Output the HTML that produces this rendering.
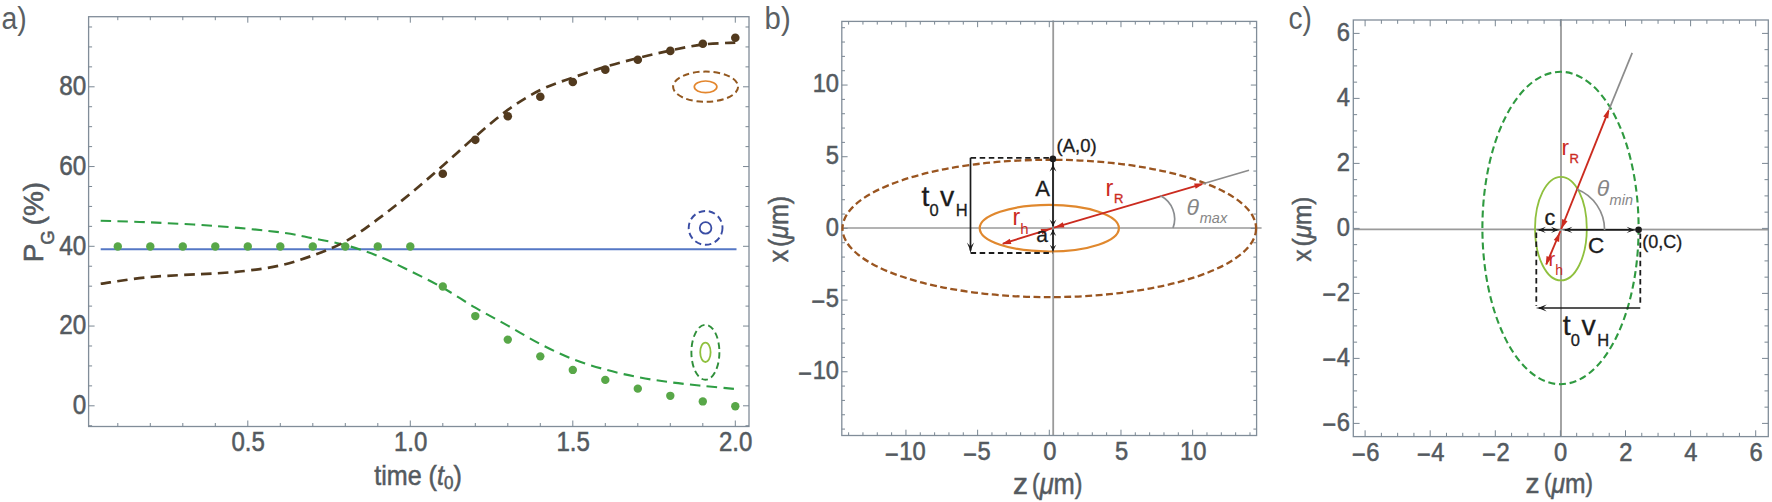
<!DOCTYPE html><html><head><meta charset="utf-8"><title>figure</title><style>html,body{margin:0;padding:0;background:#fff}svg{display:block}text{font-family:'Liberation Sans', Arial, sans-serif}text[fill="#545a60"]{stroke:#545a60;stroke-width:.55px}text[fill="#1c1c1c"]{stroke:#1c1c1c;stroke-width:.3px}text[fill="#5a5f63"]{stroke:none}</style></head><body>
<svg width="1772" height="502" viewBox="0 0 1772 502">
<rect width="1772" height="502" fill="#fff"/>
<rect x="88.6" y="16.7" width="660.4" height="409.8" fill="none" stroke="#818d99" stroke-width="1.3"/>
<path d="M117.8 426.5v-3.5 M117.8 16.7v3.5 M150.3 426.5v-3.5 M150.3 16.7v3.5 M182.8 426.5v-3.5 M182.8 16.7v3.5 M215.3 426.5v-3.5 M215.3 16.7v3.5 M247.8 426.5v-6 M247.8 16.7v6 M280.3 426.5v-3.5 M280.3 16.7v3.5 M312.8 426.5v-3.5 M312.8 16.7v3.5 M345.3 426.5v-3.5 M345.3 16.7v3.5 M377.8 426.5v-3.5 M377.8 16.7v3.5 M410.3 426.5v-6 M410.3 16.7v6 M442.8 426.5v-3.5 M442.8 16.7v3.5 M475.3 426.5v-3.5 M475.3 16.7v3.5 M507.8 426.5v-3.5 M507.8 16.7v3.5 M540.3 426.5v-3.5 M540.3 16.7v3.5 M572.8 426.5v-6 M572.8 16.7v6 M605.3 426.5v-3.5 M605.3 16.7v3.5 M637.8 426.5v-3.5 M637.8 16.7v3.5 M670.3 426.5v-3.5 M670.3 16.7v3.5 M702.8 426.5v-3.5 M702.8 16.7v3.5 M735.3 426.5v-6 M735.3 16.7v6 M88.6 425.74h3.5 M749 425.74h-3.5 M88.6 405.8h6 M749 405.8h-6 M88.6 385.86h3.5 M749 385.86h-3.5 M88.6 365.93h3.5 M749 365.93h-3.5 M88.6 345.99h3.5 M749 345.99h-3.5 M88.6 326.05h6 M749 326.05h-6 M88.6 306.11h3.5 M749 306.11h-3.5 M88.6 286.18h3.5 M749 286.18h-3.5 M88.6 266.24h3.5 M749 266.24h-3.5 M88.6 246.3h6 M749 246.3h-6 M88.6 226.36h3.5 M749 226.36h-3.5 M88.6 206.43h3.5 M749 206.43h-3.5 M88.6 186.49h3.5 M749 186.49h-3.5 M88.6 166.55h6 M749 166.55h-6 M88.6 146.61h3.5 M749 146.61h-3.5 M88.6 126.68h3.5 M749 126.68h-3.5 M88.6 106.74h3.5 M749 106.74h-3.5 M88.6 86.8h6 M749 86.8h-6 M88.6 66.86h3.5 M749 66.86h-3.5 M88.6 46.93h3.5 M749 46.93h-3.5 M88.6 26.99h3.5 M749 26.99h-3.5 " stroke="#7a8793" stroke-width="1" fill="none"/>
<line x1="100.7" y1="249.3" x2="736.5" y2="249.3" stroke="#5577c5" stroke-width="1.9"/>
<path d="M100.7 220.78 C108.97 221.05 131.2 221.51 150.3 222.38 C169.4 223.24 193.63 224.3 215.3 225.96 C236.97 227.63 264.05 230.28 280.3 232.34 C296.55 234.4 301.97 236.2 312.8 238.33 C323.63 240.45 334.47 242.18 345.3 245.1 C356.13 248.03 366.97 251.55 377.8 255.87 C388.63 260.19 399.47 265.71 410.3 271.02 C421.13 276.34 431.97 281.66 442.8 287.77 C453.63 293.88 464.47 301.39 475.3 307.71 C486.13 314.02 496.97 319.6 507.8 325.65 C518.63 331.7 529.47 338.41 540.3 343.99 C551.13 349.58 561.97 354.89 572.8 359.15 C583.63 363.4 594.47 366.52 605.3 369.51 C616.13 372.5 626.97 374.96 637.8 377.09 C648.63 379.22 659.47 380.81 670.3 382.27 C681.13 383.74 691.97 384.73 702.8 385.86 C713.63 386.99 729.88 388.52 735.3 389.05" fill="none" stroke="#2f9e44" stroke-width="2.1" stroke-dasharray="10.5 6.3"/>
<path d="M100.7 283.78 C108.97 282.65 131.2 278.73 150.3 277 C169.4 275.28 199.05 274.48 215.3 273.41 C231.55 272.35 236.97 271.95 247.8 270.62 C258.63 269.29 269.47 267.97 280.3 265.44 C291.13 262.91 301.97 259.46 312.8 255.47 C323.63 251.48 334.47 247.56 345.3 241.52 C356.13 235.47 366.97 227.16 377.8 219.19 C388.63 211.21 399.47 202.57 410.3 193.67 C421.13 184.76 431.97 175.26 442.8 165.75 C453.63 156.25 464.47 145.95 475.3 136.64 C486.13 127.34 496.97 117.7 507.8 109.93 C518.63 102.15 529.47 95.37 540.3 89.99 C551.13 84.61 561.97 81.48 572.8 77.63 C583.63 73.77 594.47 70.12 605.3 66.86 C616.13 63.61 626.97 60.81 637.8 58.09 C648.63 55.37 659.47 52.77 670.3 50.51 C681.13 48.25 691.97 45.86 702.8 44.53 C713.63 43.2 729.88 42.87 735.3 42.54" fill="none" stroke="#523a1e" stroke-width="2.7" stroke-dasharray="10.5 6.3"/>
<circle cx="442.8" cy="173.73" r="4.3" fill="#523a1e"/>
<circle cx="475.3" cy="139.83" r="4.3" fill="#523a1e"/>
<circle cx="507.8" cy="116.31" r="4.3" fill="#523a1e"/>
<circle cx="540.3" cy="96.77" r="4.3" fill="#523a1e"/>
<circle cx="572.8" cy="82.01" r="4.3" fill="#523a1e"/>
<circle cx="605.3" cy="69.65" r="4.3" fill="#523a1e"/>
<circle cx="637.8" cy="59.69" r="4.3" fill="#523a1e"/>
<circle cx="670.3" cy="50.91" r="4.3" fill="#523a1e"/>
<circle cx="702.8" cy="43.74" r="4.3" fill="#523a1e"/>
<circle cx="735.3" cy="37.75" r="4.3" fill="#523a1e"/>
<circle cx="442.8" cy="286.57" r="4.2" fill="#58a748"/>
<circle cx="475.3" cy="316.08" r="4.2" fill="#58a748"/>
<circle cx="507.8" cy="339.61" r="4.2" fill="#58a748"/>
<circle cx="540.3" cy="356.36" r="4.2" fill="#58a748"/>
<circle cx="572.8" cy="369.91" r="4.2" fill="#58a748"/>
<circle cx="605.3" cy="379.88" r="4.2" fill="#58a748"/>
<circle cx="637.8" cy="388.65" r="4.2" fill="#58a748"/>
<circle cx="670.3" cy="395.83" r="4.2" fill="#58a748"/>
<circle cx="702.8" cy="401.41" r="4.2" fill="#58a748"/>
<circle cx="735.3" cy="406.2" r="4.2" fill="#58a748"/>
<circle cx="117.8" cy="246.5" r="4.2" fill="#58a748"/>
<circle cx="150.3" cy="246.5" r="4.2" fill="#58a748"/>
<circle cx="182.8" cy="246.5" r="4.2" fill="#58a748"/>
<circle cx="215.3" cy="246.5" r="4.2" fill="#58a748"/>
<circle cx="247.8" cy="246.5" r="4.2" fill="#58a748"/>
<circle cx="280.3" cy="246.5" r="4.2" fill="#58a748"/>
<circle cx="312.8" cy="246.5" r="4.2" fill="#58a748"/>
<circle cx="345.3" cy="246.5" r="4.2" fill="#58a748"/>
<circle cx="377.8" cy="246.5" r="4.2" fill="#58a748"/>
<circle cx="410.3" cy="246.5" r="4.2" fill="#58a748"/>
<ellipse cx="705.6" cy="86.7" rx="32.5" ry="15.1" fill="none" stroke="#93581f" stroke-width="2" stroke-dasharray="6.5 3.8"/>
<ellipse cx="705.6" cy="86.8" rx="11.3" ry="5.8" fill="none" stroke="#e3862d" stroke-width="1.7"/>
<ellipse cx="705.6" cy="227.9" rx="16.9" ry="16.9" fill="none" stroke="#3a4da4" stroke-width="1.9" stroke-dasharray="6.5 3.8"/>
<ellipse cx="705.6" cy="227.9" rx="5.8" ry="5.8" fill="none" stroke="#3a4da4" stroke-width="1.8"/>
<ellipse cx="705.4" cy="352.3" rx="14" ry="27.5" fill="none" stroke="#2f8f3a" stroke-width="1.9" stroke-dasharray="6.5 3.8"/>
<ellipse cx="705.4" cy="352.3" rx="5.2" ry="9.7" fill="none" stroke="#8fc03e" stroke-width="1.8"/>
<text transform="translate(248.2,451.3) scale(0.89,1)" font-size="27" text-anchor="middle" fill="#545a60" >0.5</text>
<text transform="translate(410.7,451.3) scale(0.89,1)" font-size="27" text-anchor="middle" fill="#545a60" >1.0</text>
<text transform="translate(573.2,451.3) scale(0.89,1)" font-size="27" text-anchor="middle" fill="#545a60" >1.5</text>
<text transform="translate(735.7,451.3) scale(0.89,1)" font-size="27" text-anchor="middle" fill="#545a60" >2.0</text>
<text transform="translate(86.3,414.2) scale(0.9,1)" font-size="27" text-anchor="end" fill="#545a60" >0</text>
<text transform="translate(86.3,334.45) scale(0.9,1)" font-size="27" text-anchor="end" fill="#545a60" >20</text>
<text transform="translate(86.3,254.7) scale(0.9,1)" font-size="27" text-anchor="end" fill="#545a60" >40</text>
<text transform="translate(86.3,174.95) scale(0.9,1)" font-size="27" text-anchor="end" fill="#545a60" >60</text>
<text transform="translate(86.3,95.2) scale(0.9,1)" font-size="27" text-anchor="end" fill="#545a60" >80</text>
<text x="418" y="485" font-size="28" text-anchor="middle" fill="#545a60" textLength="87.5" lengthAdjust="spacingAndGlyphs">time (<tspan font-style="italic">t</tspan><tspan font-size="19" dy="3.5">0</tspan><tspan dy="-3.5">)</tspan></text>
<text transform="translate(43.4,262.3) rotate(-90)" font-size="28" fill="#545a60">P<tspan font-size="18.5" dy="11" dx="-1.2">G</tspan><tspan dy="-11" dx="5">(%)</tspan></text>
<text transform="translate(1.6,28.7) scale(0.9,1)" font-size="31.5" text-anchor="start" fill="#5a5f63" >a)</text>
<line x1="1053.2" y1="20.4" x2="1053.2" y2="435.5" stroke="#9a9a9a" stroke-width="1.8"/>
<line x1="841.8" y1="228" x2="1261.6" y2="228" stroke="#9a9a9a" stroke-width="1.7"/>
<rect x="841.8" y="21.4" width="414.8" height="414.1" fill="none" stroke="#818d99" stroke-width="1.3"/>
<path d="M848.61 435.5v-3.2 M848.61 21.4v3.2 M862.94 435.5v-3.2 M862.94 21.4v3.2 M877.28 435.5v-3.2 M877.28 21.4v3.2 M891.62 435.5v-3.2 M891.62 21.4v3.2 M905.95 435.5v-5.8 M905.95 21.4v5.8 M920.28 435.5v-3.2 M920.28 21.4v3.2 M934.62 435.5v-3.2 M934.62 21.4v3.2 M948.95 435.5v-3.2 M948.95 21.4v3.2 M963.29 435.5v-3.2 M963.29 21.4v3.2 M977.62 435.5v-5.8 M977.62 21.4v5.8 M991.96 435.5v-3.2 M991.96 21.4v3.2 M1006.29 435.5v-3.2 M1006.29 21.4v3.2 M1020.63 435.5v-3.2 M1020.63 21.4v3.2 M1034.96 435.5v-3.2 M1034.96 21.4v3.2 M1049.3 435.5v-5.8 M1049.3 21.4v5.8 M1063.63 435.5v-3.2 M1063.63 21.4v3.2 M1077.97 435.5v-3.2 M1077.97 21.4v3.2 M1092.31 435.5v-3.2 M1092.31 21.4v3.2 M1106.64 435.5v-3.2 M1106.64 21.4v3.2 M1120.97 435.5v-5.8 M1120.97 21.4v5.8 M1135.31 435.5v-3.2 M1135.31 21.4v3.2 M1149.64 435.5v-3.2 M1149.64 21.4v3.2 M1163.98 435.5v-3.2 M1163.98 21.4v3.2 M1178.32 435.5v-3.2 M1178.32 21.4v3.2 M1192.65 435.5v-5.8 M1192.65 21.4v5.8 M1206.98 435.5v-3.2 M1206.98 21.4v3.2 M1221.32 435.5v-3.2 M1221.32 21.4v3.2 M1235.65 435.5v-3.2 M1235.65 21.4v3.2 M1249.99 435.5v-3.2 M1249.99 21.4v3.2 M841.8 429.09h3.2 M1256.6 429.09h-3.2 M841.8 414.75h3.2 M1256.6 414.75h-3.2 M841.8 400.42h3.2 M1256.6 400.42h-3.2 M841.8 386.09h3.2 M1256.6 386.09h-3.2 M841.8 371.75h5.8 M1256.6 371.75h-5.8 M841.8 357.42h3.2 M1256.6 357.42h-3.2 M841.8 343.08h3.2 M1256.6 343.08h-3.2 M841.8 328.75h3.2 M1256.6 328.75h-3.2 M841.8 314.41h3.2 M1256.6 314.41h-3.2 M841.8 300.08h5.8 M1256.6 300.08h-5.8 M841.8 285.74h3.2 M1256.6 285.74h-3.2 M841.8 271.41h3.2 M1256.6 271.41h-3.2 M841.8 257.07h3.2 M1256.6 257.07h-3.2 M841.8 242.74h3.2 M1256.6 242.74h-3.2 M841.8 228.4h5.8 M1256.6 228.4h-5.8 M841.8 214.06h3.2 M1256.6 214.06h-3.2 M841.8 199.73h3.2 M1256.6 199.73h-3.2 M841.8 185.4h3.2 M1256.6 185.4h-3.2 M841.8 171.06h3.2 M1256.6 171.06h-3.2 M841.8 156.72h5.8 M1256.6 156.72h-5.8 M841.8 142.39h3.2 M1256.6 142.39h-3.2 M841.8 128.06h3.2 M1256.6 128.06h-3.2 M841.8 113.72h3.2 M1256.6 113.72h-3.2 M841.8 99.38h3.2 M1256.6 99.38h-3.2 M841.8 85.05h5.8 M1256.6 85.05h-5.8 M841.8 70.72h3.2 M1256.6 70.72h-3.2 M841.8 56.38h3.2 M1256.6 56.38h-3.2 M841.8 42.04h3.2 M1256.6 42.04h-3.2 M841.8 27.71h3.2 M1256.6 27.71h-3.2 " stroke="#7a8793" stroke-width="1" fill="none"/>
<ellipse cx="1049.3" cy="228.45" rx="206.8" ry="68.7" fill="none" stroke="#9a5520" stroke-width="2.3" stroke-dasharray="6.9 3.5"/>
<ellipse cx="1049.3" cy="228.2" rx="69.6" ry="23.3" fill="none" stroke="#e0882e" stroke-width="2.2"/>
<text transform="translate(905.35,459.9) scale(0.93,1)" font-size="25.5" text-anchor="middle" fill="#545a60" ><tspan dy="2.6">−</tspan><tspan dy="-2.6" dx="0.5">10</tspan></text>
<text transform="translate(977.02,459.9) scale(0.93,1)" font-size="25.5" text-anchor="middle" fill="#545a60" ><tspan dy="2.6">−</tspan><tspan dy="-2.6" dx="0.5">5</tspan></text>
<text transform="translate(1049.9,459.9) scale(0.93,1)" font-size="25.5" text-anchor="middle" fill="#545a60" >0</text>
<text transform="translate(1121.57,459.9) scale(0.93,1)" font-size="25.5" text-anchor="middle" fill="#545a60" >5</text>
<text transform="translate(1193.25,459.9) scale(0.93,1)" font-size="25.5" text-anchor="middle" fill="#545a60" >10</text>
<text transform="translate(839,92.25) scale(0.93,1)" font-size="25.5" text-anchor="end" fill="#545a60" >10</text>
<text transform="translate(839,163.92) scale(0.93,1)" font-size="25.5" text-anchor="end" fill="#545a60" >5</text>
<text transform="translate(839,235.6) scale(0.93,1)" font-size="25.5" text-anchor="end" fill="#545a60" >0</text>
<text transform="translate(839,307.28) scale(0.93,1)" font-size="25.5" text-anchor="end" fill="#545a60" ><tspan dy="2.6">−</tspan><tspan dy="-2.6" dx="0.5">5</tspan></text>
<text transform="translate(839,378.95) scale(0.93,1)" font-size="25.5" text-anchor="end" fill="#545a60" ><tspan dy="2.6">−</tspan><tspan dy="-2.6" dx="0.5">10</tspan></text>
<text x="1013" y="493.9" font-size="30" fill="#545a60" stroke="#545a60" stroke-width="0.45">z</text>
<text transform="translate(1032,493.9) scale(0.85,1)" font-size="30" fill="#545a60"><tspan font-size="27" dy="-0.5">(</tspan><tspan font-style="italic" dy="0.5">μ</tspan>m<tspan font-size="27" dy="-0.5">)</tspan></text>
<text transform="translate(787.8,262.3) rotate(-90)" font-size="28" fill="#545a60" textLength="66.5" lengthAdjust="spacingAndGlyphs"><tspan stroke="#545a60" stroke-width="0.45">x</tspan><tspan dx="3">(</tspan><tspan font-style="italic">μ</tspan>m)</text>
<text transform="translate(764.6,28.7) scale(0.93,1)" font-size="31.5" text-anchor="start" fill="#5a5f63" >b)</text>
<line x1="970.6" y1="157.8" x2="1052.9" y2="157.8" stroke="#1c1c1c" stroke-width="1.8" stroke-dasharray="5.5 3.6"/>
<line x1="970.6" y1="253" x2="1052.9" y2="253" stroke="#1c1c1c" stroke-width="1.8" stroke-dasharray="5.5 3.6"/>
<line x1="970.5" y1="157.8" x2="970.5" y2="250.5" stroke="#1c1c1c" stroke-width="1.7"/>
<path d="M970.5 253.2Q969.71 248.1 966.9 242.6L970.5 246.4L974.1 242.6Q971.29 248.1 970.5 253.2Z" fill="#1a1a1a"/>
<line x1="1053" y1="160" x2="1053" y2="226" stroke="#1c1c1c" stroke-width="1.7"/>
<path d="M1053 163Q1053.75 167.2 1056.4 171.6L1053 168.56L1049.6 171.6Q1052.25 167.2 1053 163Z" fill="#1a1a1a"/>
<path d="M1053 228.2Q1052.25 224 1049.6 219.6L1053 222.64L1056.4 219.6Q1053.75 224 1053 228.2Z" fill="#1a1a1a"/>
<line x1="1053" y1="230" x2="1053" y2="250.5" stroke="#1c1c1c" stroke-width="1.7"/>
<path d="M1053 228Q1053.7 231.97 1056.2 236.1L1053 233.25L1049.8 236.1Q1052.3 231.97 1053 228Z" fill="#1a1a1a"/>
<path d="M1053 252.8Q1052.3 248.82 1049.8 244.7L1053 247.55L1056.2 244.7Q1053.7 248.82 1053 252.8Z" fill="#1a1a1a"/>
<circle cx="1052.9" cy="158.9" r="3.3" fill="#1c1c1c"/>
<line x1="1054" y1="227.7" x2="1202" y2="184.1" stroke="#cb2b1f" stroke-width="1.9"/>
<path d="M1204 183.5L1195.65 188.78L1194.12 183.6Z" fill="#cc2a1e"/>
<path d="M1054.5 227.6L1062.85 222.32L1064.38 227.5Z" fill="#cc2a1e"/>
<line x1="1249" y1="170.3" x2="1203" y2="183.8" stroke="#8c8c8c" stroke-width="1.7"/>
<line x1="1052" y1="228.3" x2="1003" y2="243.7" stroke="#cb2b1f" stroke-width="1.9"/>
<path d="M1001.5 244.2L1009.76 238.78L1011.37 243.93Z" fill="#cc2a1e"/>
<path d="M1050.5 228.8L1042.24 234.22L1040.63 229.07Z" fill="#cc2a1e"/>
<path d="M1173 228A26 26 0 0 0 1160.5 195.8" fill="none" stroke="#8a8d90" stroke-width="1.7"/>
<text x="1186.5" y="215.3" font-size="23" fill="#868686" font-style="italic">θ<tspan font-size="14.5" dy="8" dx="0.8">max</tspan></text>
<text x="1105.6" y="195.6" font-size="23.5" fill="#cb2b1f">r<tspan font-size="13" dy="7.5" dx="0.5" stroke="#cb2b1f" stroke-width="0.35">R</tspan></text>
<text x="1012.5" y="225.2" font-size="23" fill="#cb2b1f">r<tspan font-size="15" dy="8.5">h</tspan></text>
<text x="1035.3" y="196" font-size="22" text-anchor="start" fill="#1c1c1c" >A</text>
<text x="1036.2" y="241.8" font-size="21" text-anchor="start" fill="#1c1c1c" >a</text>
<text x="1056.6" y="152.2" font-size="17.5" text-anchor="start" fill="#1c1c1c" textLength="40" lengthAdjust="spacingAndGlyphs" >(A,0)</text>
<text x="921.5" y="206" font-size="28.5" fill="#1c1c1c">t<tspan font-size="16.5" dy="10">0</tspan><tspan dy="-10" dx="1.5">v</tspan><tspan font-size="16.5" dy="10" dx="1.5">H</tspan></text>
<line x1="1561" y1="19" x2="1561" y2="436.6" stroke="#9a9a9a" stroke-width="1.8"/>
<line x1="1353.3" y1="229.3" x2="1768.3" y2="229.6" stroke="#9a9a9a" stroke-width="1.7"/>
<rect x="1353.3" y="20" width="415" height="416.6" fill="none" stroke="#818d99" stroke-width="1.3"/>
<path d="M1365.1 436.6v-6.3 M1365.1 20v6.3 M1381.38 436.6v-3.8 M1381.38 20v3.8 M1397.65 436.6v-3.8 M1397.65 20v3.8 M1413.93 436.6v-3.8 M1413.93 20v3.8 M1430.2 436.6v-6.3 M1430.2 20v6.3 M1446.48 436.6v-3.8 M1446.48 20v3.8 M1462.75 436.6v-3.8 M1462.75 20v3.8 M1479.03 436.6v-3.8 M1479.03 20v3.8 M1495.3 436.6v-6.3 M1495.3 20v6.3 M1511.58 436.6v-3.8 M1511.58 20v3.8 M1527.85 436.6v-3.8 M1527.85 20v3.8 M1544.12 436.6v-3.8 M1544.12 20v3.8 M1560.4 436.6v-6.3 M1560.4 20v6.3 M1576.68 436.6v-3.8 M1576.68 20v3.8 M1592.95 436.6v-3.8 M1592.95 20v3.8 M1609.23 436.6v-3.8 M1609.23 20v3.8 M1625.5 436.6v-6.3 M1625.5 20v6.3 M1641.78 436.6v-3.8 M1641.78 20v3.8 M1658.05 436.6v-3.8 M1658.05 20v3.8 M1674.33 436.6v-3.8 M1674.33 20v3.8 M1690.6 436.6v-6.3 M1690.6 20v6.3 M1706.88 436.6v-3.8 M1706.88 20v3.8 M1723.15 436.6v-3.8 M1723.15 20v3.8 M1739.43 436.6v-3.8 M1739.43 20v3.8 M1755.7 436.6v-6.3 M1755.7 20v6.3 M1353.3 423.4h6.3 M1768.3 423.4h-6.3 M1353.3 407.15h3.8 M1768.3 407.15h-3.8 M1353.3 390.9h3.8 M1768.3 390.9h-3.8 M1353.3 374.65h3.8 M1768.3 374.65h-3.8 M1353.3 358.4h6.3 M1768.3 358.4h-6.3 M1353.3 342.15h3.8 M1768.3 342.15h-3.8 M1353.3 325.9h3.8 M1768.3 325.9h-3.8 M1353.3 309.65h3.8 M1768.3 309.65h-3.8 M1353.3 293.4h6.3 M1768.3 293.4h-6.3 M1353.3 277.15h3.8 M1768.3 277.15h-3.8 M1353.3 260.9h3.8 M1768.3 260.9h-3.8 M1353.3 244.65h3.8 M1768.3 244.65h-3.8 M1353.3 228.4h6.3 M1768.3 228.4h-6.3 M1353.3 212.15h3.8 M1768.3 212.15h-3.8 M1353.3 195.9h3.8 M1768.3 195.9h-3.8 M1353.3 179.65h3.8 M1768.3 179.65h-3.8 M1353.3 163.4h6.3 M1768.3 163.4h-6.3 M1353.3 147.15h3.8 M1768.3 147.15h-3.8 M1353.3 130.9h3.8 M1768.3 130.9h-3.8 M1353.3 114.65h3.8 M1768.3 114.65h-3.8 M1353.3 98.4h6.3 M1768.3 98.4h-6.3 M1353.3 82.15h3.8 M1768.3 82.15h-3.8 M1353.3 65.9h3.8 M1768.3 65.9h-3.8 M1353.3 49.65h3.8 M1768.3 49.65h-3.8 M1353.3 33.4h6.3 M1768.3 33.4h-6.3 " stroke="#7a8793" stroke-width="1" fill="none"/>
<ellipse cx="1560.5" cy="228" rx="78.1" ry="156.2" fill="none" stroke="#2f9a40" stroke-width="2.1" stroke-dasharray="7 3.8"/>
<ellipse cx="1560.9" cy="228.6" rx="25.9" ry="51.8" fill="none" stroke="#8fc03e" stroke-width="1.8"/>
<text transform="translate(1365.7,460.6) scale(0.93,1)" font-size="25.5" text-anchor="middle" fill="#545a60" ><tspan dy="2.6">−</tspan><tspan dy="-2.6" dx="0.5">6</tspan></text>
<text transform="translate(1430.8,460.6) scale(0.93,1)" font-size="25.5" text-anchor="middle" fill="#545a60" ><tspan dy="2.6">−</tspan><tspan dy="-2.6" dx="0.5">4</tspan></text>
<text transform="translate(1495.9,460.6) scale(0.93,1)" font-size="25.5" text-anchor="middle" fill="#545a60" ><tspan dy="2.6">−</tspan><tspan dy="-2.6" dx="0.5">2</tspan></text>
<text transform="translate(1560.7,460.6) scale(0.93,1)" font-size="25.5" text-anchor="middle" fill="#545a60" >0</text>
<text transform="translate(1625.8,460.6) scale(0.93,1)" font-size="25.5" text-anchor="middle" fill="#545a60" >2</text>
<text transform="translate(1690.9,460.6) scale(0.93,1)" font-size="25.5" text-anchor="middle" fill="#545a60" >4</text>
<text transform="translate(1756,460.6) scale(0.93,1)" font-size="25.5" text-anchor="middle" fill="#545a60" >6</text>
<text transform="translate(1350,40.8) scale(0.93,1)" font-size="25.5" text-anchor="end" fill="#545a60" >6</text>
<text transform="translate(1350,105.8) scale(0.93,1)" font-size="25.5" text-anchor="end" fill="#545a60" >4</text>
<text transform="translate(1350,170.8) scale(0.93,1)" font-size="25.5" text-anchor="end" fill="#545a60" >2</text>
<text transform="translate(1350,235.8) scale(0.93,1)" font-size="25.5" text-anchor="end" fill="#545a60" >0</text>
<text transform="translate(1350,300.8) scale(0.93,1)" font-size="25.5" text-anchor="end" fill="#545a60" ><tspan dy="2.6">−</tspan><tspan dy="-2.6" dx="0.5">2</tspan></text>
<text transform="translate(1350,365.8) scale(0.93,1)" font-size="25.5" text-anchor="end" fill="#545a60" ><tspan dy="2.6">−</tspan><tspan dy="-2.6" dx="0.5">4</tspan></text>
<text transform="translate(1350,430.8) scale(0.93,1)" font-size="25.5" text-anchor="end" fill="#545a60" ><tspan dy="2.6">−</tspan><tspan dy="-2.6" dx="0.5">6</tspan></text>
<text x="1525.5" y="492.6" font-size="28" fill="#545a60" stroke="#545a60" stroke-width="0.45">z</text>
<text transform="translate(1544.1,492.6) scale(0.88,1)" font-size="28" fill="#545a60"><tspan font-size="25.2" dy="-0.5">(</tspan><tspan font-style="italic" dy="0.5">μ</tspan>m<tspan font-size="25.2" dy="-0.5">)</tspan></text>
<text transform="translate(1311,261.4) rotate(-90)" font-size="25.5" fill="#545a60" textLength="64.7" lengthAdjust="spacingAndGlyphs"><tspan stroke="#545a60" stroke-width="0.45">x</tspan><tspan dx="3">(</tspan><tspan font-style="italic">μ</tspan>m)</text>
<text transform="translate(1288.6,28.7) scale(0.89,1)" font-size="31.5" text-anchor="start" fill="#5a5f63" >c)</text>
<line x1="1536.3" y1="232.5" x2="1536.3" y2="306" stroke="#1c1c1c" stroke-width="1.8" stroke-dasharray="5.5 3.6"/>
<line x1="1640.3" y1="233.5" x2="1640.3" y2="306" stroke="#1c1c1c" stroke-width="1.8" stroke-dasharray="5.5 3.6"/>
<line x1="1539" y1="308" x2="1640.3" y2="308" stroke="#1c1c1c" stroke-width="1.7"/>
<path d="M1535.8 308Q1541.04 307.25 1546.7 304.6L1542.79 308L1546.7 311.4Q1541.04 308.75 1535.8 308Z" fill="#1a1a1a"/>
<line x1="1539" y1="229.9" x2="1557" y2="229.9" stroke="#1c1c1c" stroke-width="1.8"/>
<path d="M1535.8 229.9Q1540.68 229.22 1545.9 226.8L1542.29 229.9L1545.9 233Q1540.68 230.58 1535.8 229.9Z" fill="#1a1a1a"/>
<path d="M1560.6 229.9Q1555.95 230.58 1551 233L1554.42 229.9L1551 226.8Q1555.95 229.22 1560.6 229.9Z" fill="#1a1a1a"/>
<line x1="1565" y1="229.9" x2="1633" y2="229.9" stroke="#1c1c1c" stroke-width="1.8"/>
<path d="M1562 229.9Q1567.01 229.22 1572.4 226.8L1568.68 229.9L1572.4 233Q1567.01 230.58 1562 229.9Z" fill="#1a1a1a"/>
<path d="M1637 229.9Q1631.99 230.58 1626.6 233L1630.32 229.9L1626.6 226.8Q1631.99 229.22 1637 229.9Z" fill="#1a1a1a"/>
<circle cx="1638.6" cy="229.8" r="3.3" fill="#1c1c1c"/>
<line x1="1561.2" y1="229" x2="1608.5" y2="110.8" stroke="#cb2b1f" stroke-width="1.9"/>
<path d="M1609.3 108.8L1608.28 118.62L1603.27 116.62Z" fill="#cc2a1e"/>
<path d="M1561.3 229L1562.13 219.1L1567.52 221.26Z" fill="#cc2a1e"/>
<line x1="1609" y1="109.6" x2="1632.2" y2="52.9" stroke="#8c8c8c" stroke-width="1.7"/>
<line x1="1560.4" y1="231" x2="1546.3" y2="264.4" stroke="#cb2b1f" stroke-width="1.9"/>
<path d="M1545.7 265.4L1546.53 256.04L1551.55 258.05Z" fill="#cc2a1e"/>
<path d="M1559.8 232.6L1559.15 242.03L1553.77 239.88Z" fill="#cc2a1e"/>
<path d="M1604.6 229.9A43.7 43.7 0 0 0 1577.12 189.32" fill="none" stroke="#8c8c8c" stroke-width="1.7"/>
<text x="1596.8" y="196" font-size="23" fill="#868686" font-style="italic">θ<tspan font-size="14.5" dy="9.3" dx="0.3">min</tspan></text>
<text x="1561.6" y="155.4" font-size="22.5" fill="#cb2b1f">r<tspan font-size="13" dy="7.5" dx="0.5" stroke="#cb2b1f" stroke-width="0.35">R</tspan></text>
<text x="1548.5" y="266" font-size="20" fill="#cb2b1f">r<tspan font-size="14" dy="8.5">h</tspan></text>
<text x="1544.6" y="225.3" font-size="21.5" text-anchor="start" fill="#1c1c1c" >c</text>
<text x="1588" y="252.8" font-size="22.5" text-anchor="start" fill="#1c1c1c" >C</text>
<text x="1642.2" y="248.4" font-size="17.5" text-anchor="start" fill="#1c1c1c" textLength="40" lengthAdjust="spacingAndGlyphs" >(0,C)</text>
<text x="1562.8" y="335.3" font-size="28.5" fill="#1c1c1c">t<tspan font-size="16.5" dy="10.5">0</tspan><tspan dy="-10.5" dx="1.5">v</tspan><tspan font-size="16.5" dy="10.5" dx="1.5">H</tspan></text>
</svg></body></html>
